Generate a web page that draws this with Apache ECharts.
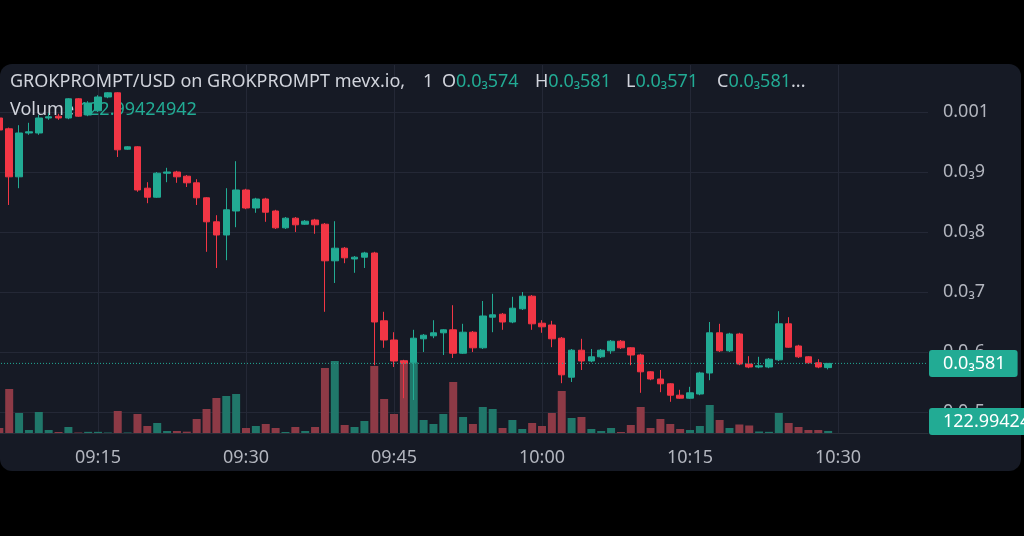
<!DOCTYPE html>
<html>
<head>
<meta charset="utf-8">
<script src="https://cdn.jsdelivr.net/npm/echarts@6/dist/echarts.min.js"></script>
<style>
html,body{margin:0;padding:0;background:#000;overflow:hidden;width:1024px;height:536px;}
#chart{position:absolute;left:-50px;top:0;width:1074px;height:536px;}
</style>
</head>
<body>
<div id="chart"></div>
<script>
const times = ['09:05','09:06','09:07','09:08','09:09','09:10','09:11','09:12','09:13','09:14',
'09:15','09:16','09:17','09:18','09:19','09:20','09:21','09:22','09:23','09:24',
'09:25','09:26','09:27','09:28','09:29','09:30','09:31','09:32','09:33','09:34',
'09:35','09:36','09:37','09:38','09:39','09:40','09:41','09:42','09:43','09:44',
'09:45','09:46','09:47','09:48','09:49','09:50','09:51','09:52','09:53','09:54',
'09:55','09:56','09:57','09:58','09:59','10:00','10:01','10:02','10:03','10:04',
'10:05','10:06','10:07','10:08','10:09','10:10','10:11','10:12','10:13','10:14',
'10:15','10:16','10:17','10:18','10:19','10:20','10:21','10:22','10:23','10:24',
'10:25','10:26','10:27','10:28','10:29'];

const opens = [0.000990,0.000972,0.000892,0.000965,0.000965,0.000990,0.000993,0.000990,0.001022,0.000995,
0.001002,0.001025,0.001032,0.000938,0.000942,0.000873,0.000858,0.000898,0.000900,0.000893,
0.000882,0.000857,0.000817,0.000795,0.000835,0.000870,0.000840,0.000855,0.000835,0.000807,
0.000823,0.000813,0.000820,0.000813,0.000752,0.000773,0.000755,0.000758,0.000765,0.000652,
0.000620,0.000585,0.000583,0.000622,0.000627,0.000632,0.000637,0.000598,0.000633,0.000607,
0.000658,0.000663,0.000650,0.000672,0.000693,0.000648,0.000645,0.000623,0.000558,0.000603,
0.000585,0.000592,0.000602,0.000618,0.000607,0.000595,0.000567,0.000555,0.000547,0.000528,
0.000523,0.000530,0.000565,0.000632,0.000602,0.000630,0.000580,0.000575,0.000575,0.000587,
0.000647,0.000610,0.000592,0.000582,0.000574];
const closes = [0.000970,0.000892,0.000965,0.000967,0.000990,0.000992,0.000990,0.001022,0.000993,0.001015,
0.001025,0.001032,0.000937,0.000942,0.000870,0.000858,0.000898,0.000900,0.000892,0.000882,
0.000857,0.000817,0.000795,0.000837,0.000870,0.000840,0.000855,0.000833,0.000807,0.000823,
0.000812,0.000818,0.000812,0.000752,0.000773,0.000757,0.000758,0.000765,0.000650,0.000620,
0.000585,0.000581,0.000623,0.000628,0.000632,0.000637,0.000598,0.000633,0.000607,0.000660,
0.000662,0.000650,0.000673,0.000693,0.000647,0.000642,0.000622,0.000562,0.000603,0.000585,
0.000592,0.000603,0.000618,0.000607,0.000595,0.000567,0.000555,0.000547,0.000528,0.000523,
0.000532,0.000565,0.000632,0.000602,0.000630,0.000580,0.000575,0.000577,0.000588,0.000647,
0.000608,0.000592,0.000582,0.000575,0.000581];
const lows = [0.000967,0.000845,0.000873,0.000962,0.000962,0.000987,0.000987,0.000988,0.000992,0.000993,
0.001000,0.001023,0.000925,0.000937,0.000867,0.000848,0.000857,0.000883,0.000882,0.000875,
0.000845,0.000767,0.000740,0.000753,0.000808,0.000838,0.000832,0.000817,0.000805,0.000805,
0.000800,0.000812,0.000797,0.000667,0.000715,0.000748,0.000732,0.000740,0.000578,0.000607,
0.000575,0.000523,0.000520,0.000600,0.000623,0.000595,0.000590,0.000597,0.000600,0.000605,
0.000633,0.000637,0.000648,0.000670,0.000637,0.000632,0.000608,0.000548,0.000550,0.000570,
0.000583,0.000590,0.000597,0.000605,0.000578,0.000532,0.000553,0.000533,0.000517,0.000522,
0.000522,0.000528,0.000553,0.000600,0.000600,0.000578,0.000573,0.000573,0.000573,0.000585,
0.000607,0.000590,0.000580,0.000573,0.000571];
const highs = [0.000992,0.000974,0.000978,0.000982,0.000995,0.000998,0.000997,0.001023,0.001023,0.001018,
0.001028,0.001033,0.001033,0.000943,0.000943,0.000883,0.000900,0.000907,0.000902,0.000895,
0.000888,0.000858,0.000828,0.000873,0.000918,0.000872,0.000857,0.000857,0.000837,0.000825,
0.000825,0.000820,0.000822,0.000815,0.000818,0.000775,0.000760,0.000767,0.000767,0.000667,
0.000633,0.000587,0.000637,0.000630,0.000653,0.000638,0.000678,0.000647,0.000635,0.000685,
0.000697,0.000665,0.000692,0.000700,0.000695,0.000653,0.000652,0.000625,0.000605,0.000622,
0.000605,0.000605,0.000620,0.000620,0.000608,0.000597,0.000568,0.000570,0.000548,0.000537,
0.000542,0.000567,0.000650,0.000647,0.000632,0.000632,0.000593,0.000592,0.000590,0.000668,
0.000658,0.000612,0.000593,0.000588,0.000581];
const volumes = [300,2640,1200,180,1260,180,60,360,30,70,
70,30,1320,30,1140,420,600,120,120,80,
840,1440,2100,2220,2340,300,420,540,300,60,
360,120,360,3900,4320,480,360,720,4020,2040,
1140,4380,4260,780,540,1140,3060,960,540,1560,
1440,300,780,240,600,420,1200,2520,900,960,
240,120,300,60,480,1560,300,840,540,240,
180,420,1680,780,300,510,450,90,70,1200,
600,360,180,180,122.99424942];

const symbolTitle = 'GROKPROMPT/USD on GROKPROMPT mevx.io,';
const resolution = '1';

const UP = '#22ab94', DOWN = '#f23645';
const UPV = '#20776a', DOWNV = '#8d3a46';
const FONT = '"Noto Sans", sans-serif';
const OX = 50;               // canvas is shifted 50px left of the page
const X_MIN = 540, X_MAX = 639.12;

const toMin = t => { const [h, m] = t.split(':').map(Number); return h * 60 + m; };
const fmtTime = v => { const h = Math.floor(v / 60), m = Math.round(v - h * 60); return String(h).padStart(2,'0') + ':' + String(m).padStart(2,'0'); };
const fmtPrice = p => {
  if (Math.abs(p - 0.001) < 1e-9) return '0.001';
  const s = String(Math.round(p * 1e6)).replace(/0+$/, '');
  return '0.0\u2083' + s;
};

const candleData = times.map((t, i) => [toMin(t), opens[i], closes[i], lows[i], highs[i]]);
const volData = times.map((t, i) => ({
  value: [toMin(t), volumes[i]],
  itemStyle: { color: closes[i] >= opens[i] ? UPV : DOWNV }
}));
const n = times.length - 1;
const lastClose = closes[n];

const rich = {
  t: { fill: '#d1d4dc', fontSize: 18, fontFamily: FONT },
  v: { fill: UP, fontSize: 18, fontFamily: FONT }
};
const txt = (x, y, text) => ({ type: 'text', z: 1, silent: true, style: { x: x + OX, y, verticalAlign: 'middle', text, rich } });

const chart = echarts.init(document.getElementById('chart'), null, { renderer: 'canvas' });
chart.setOption({
  backgroundColor: '#000',
  animation: false,
  textStyle: { fontFamily: FONT },
  graphic: [
    { type: 'rect', z: -10, silent: true, shape: { x: OX, y: 64, width: 1021, height: 407, r: 12 }, style: { fill: '#161a25' } },
    txt(10, 82, '{t|' + symbolTitle + '}'),
    txt(423, 82, '{t|' + resolution + '}'),
    txt(442, 82, '{t|O}{v|' + fmtPrice(opens[n]) + '}'),
    txt(535, 82, '{t|H}{v|' + fmtPrice(highs[n]) + '}'),
    txt(626, 82, '{t|L}{v|' + fmtPrice(lows[n]) + '}'),
    txt(717, 82, '{t|C}{v|' + fmtPrice(closes[n]) + '}{t|...}'),
    txt(10, 110, '{t|Volume }{v|' + String(volumes[n]) + '}'),
    { type: 'rect', z: 100, silent: true, shape: { x: 929 + OX, y: 408, width: 130, height: 27, r: 3 }, style: { fill: UP } },
    { type: 'text', z: 101, silent: true, style: { x: 943 + OX, y: 422, verticalAlign: 'middle', text: String(volumes[n]), fill: '#fff', fontSize: 18, fontFamily: FONT } }
  ],
  grid: [
    { left: 0, right: 96, top: 65, bottom: 64 },
    { left: 0, right: 96, top: 65, bottom: 103 }
  ],
  xAxis: [
    { type: 'value', gridIndex: 0, min: X_MIN, max: X_MAX, interval: 15, show: false, splitLine: { show: false } },
    { type: 'value', gridIndex: 1, min: X_MIN, max: X_MAX, interval: 15,
      axisLine: { show: true, lineStyle: { color: '#2a2e39' } },
      axisTick: { show: false },
      axisLabel: { color: '#b2b5be', fontSize: 18, fontFamily: FONT, margin: 16, showMinLabel: false, showMaxLabel: false, formatter: fmtTime },
      splitLine: { show: true, showMinLine: false, showMaxLine: false, lineStyle: { color: '#242836', width: 1 } }
    }
  ],
  yAxis: [
    { type: 'value', gridIndex: 0, position: 'right', min: 0.0004, max: 0.00107833, interval: 0.0001,
      axisLine: { show: false }, axisTick: { show: false },
      axisLabel: { color: '#b2b5be', fontSize: 18, fontFamily: FONT, margin: 15, showMinLabel: false, showMaxLabel: false, formatter: fmtPrice },
      splitLine: { show: true, showMinLine: false, showMaxLine: false, lineStyle: { color: '#242836', width: 1 } }
    },
    { type: 'value', gridIndex: 1, min: 0, max: 22080, show: false, splitLine: { show: false } }
  ],
  series: [
    { type: 'bar', xAxisIndex: 1, yAxisIndex: 1, z: 1, barWidth: 8, data: volData, silent: true },
    { type: 'candlestick', xAxisIndex: 0, yAxisIndex: 0, z: 3, barWidth: 7,
      encode: { x: 0, y: [1, 2, 3, 4] },
      data: candleData,
      itemStyle: { color: UP, color0: DOWN, borderColor: UP, borderColor0: DOWN, borderWidth: 1 }
    },
    { type: 'line', xAxisIndex: 0, yAxisIndex: 0, z: 4, silent: true, symbol: 'none',
      data: [[X_MIN, lastClose], [X_MAX, lastClose]],
      lineStyle: { color: UP, type: [1, 2], width: 1 },
      endLabel: { show: true, distance: 1, formatter: () => fmtPrice(lastClose),
        color: '#fff', fontSize: 18, fontFamily: FONT, backgroundColor: UP, borderRadius: 3,
        padding: [4, 12, 4, 14], lineHeight: 19 }
    }
  ]
});
</script>
</body>
</html>
